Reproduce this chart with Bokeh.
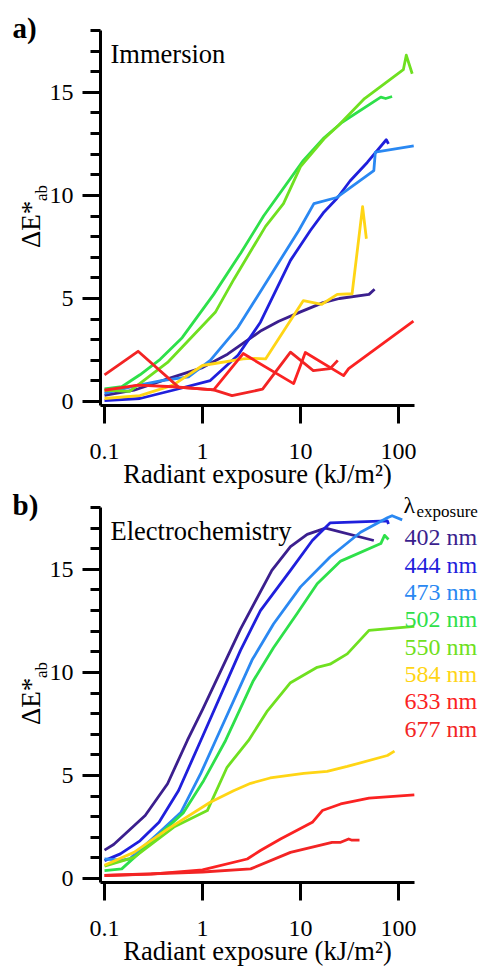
import math
from bokeh.plotting import figure
from bokeh.models import FixedTicker, CustomJSTickFormatter, Label
from bokeh.layouts import column
from bokeh.embed import file_html
from bokeh.resources import INLINE

# ---------------- data ----------------
wavelengths = ["402 nm", "444 nm", "473 nm", "502 nm", "550 nm", "584 nm", "633 nm", "677 nm"]
colors = ["#3b1f8e", "#1f1fdc", "#2a88f2", "#2ee04a", "#6fe020", "#ffd515", "#fb2222", "#f22424"]

x_ticks = [0.1, 1, 10, 100]
y_ticks = [0, 5, 10, 15]
y_minor_ticks = list(range(0, 19))
x_axis_limits = (0.091, 145.6)
y_axis_limits = (-0.19, 18.0)

# Panel a) Immersion
imm_402_x = [0.1, 0.2, 0.44, 1.0, 1.8, 4.0, 6.0, 10, 17, 25, 50, 57]
imm_402_y = [0.3, 0.55, 1.1, 1.65, 2.3, 3.45, 3.9, 4.35, 4.8, 5.0, 5.2, 5.45]
imm_444_x = [0.1, 0.23, 0.5, 1.2, 2.3, 3.9, 7.9, 12.6, 17.4, 23.5, 32, 48, 75, 79]
imm_444_y = [0.05, 0.15, 0.55, 1.02, 2.25, 3.85, 6.85, 8.3, 9.2, 9.85, 10.7, 11.6, 12.7, 12.5]
imm_473_x = [0.1, 0.2, 0.37, 0.72, 1.2, 2.3, 9.6, 13.7, 23.5, 56, 58, 143]
imm_473_y = [0.4, 0.75, 1.0, 1.2, 2.0, 3.6, 8.3, 9.6, 9.9, 11.2, 12.1, 12.4]
imm_502_x = [0.1, 0.15, 0.23, 0.37, 0.62, 1.3, 2.45, 4.2, 10.7, 17.4, 26.6, 66, 74, 86]
imm_502_y = [0.62, 0.72, 1.3, 2.05, 3.1, 5.2, 7.2, 9.0, 11.7, 12.8, 13.55, 14.77, 14.7, 14.8]
imm_550_x = [0.1, 0.18, 0.44, 1.35, 2.1, 4.4, 6.7, 10, 17.4, 24.5, 45, 112, 120, 138]
imm_550_y = [0.55, 0.5, 1.9, 4.33, 5.95, 8.5, 9.6, 11.4, 12.75, 13.4, 14.7, 16.1, 16.8, 15.9]
imm_584_x = [0.1, 0.23, 0.5, 1.0, 2.6, 3.1, 4.4, 10.7, 16.5, 23.7, 33.6, 43, 47]
imm_584_y = [0.15, 0.29, 0.8, 1.75, 2.07, 2.1, 2.07, 4.9, 4.72, 5.2, 5.23, 9.45, 7.9]
imm_633_x = [0.1, 0.22, 0.5, 1.3, 2.6, 8.5, 11.2, 27.5, 31, 142]
imm_633_y = [0.55, 0.8, 0.72, 0.57, 2.33, 0.87, 2.38, 1.26, 1.6, 3.9]
imm_677_x = [0.1, 0.22, 0.57, 1.3, 2.0, 4.1, 7.9, 13.5, 20, 24]
imm_677_y = [1.3, 2.44, 0.7, 0.57, 0.29, 0.6, 2.4, 1.5, 1.6, 2.0]

# Panel b) Electrochemistry
ec_402_x = [0.1, 0.124, 0.26, 0.44, 0.7, 1.0, 2.44, 5.1, 7.9, 11.7, 18, 56]
ec_402_y = [1.38, 1.65, 3.06, 4.6, 6.7, 8.2, 12.1, 14.95, 16.1, 16.7, 17.0, 16.4]
ec_444_x = [0.1, 0.145, 0.23, 0.36, 0.57, 0.96, 2.44, 3.9, 7.9, 13.2, 20, 77, 79]
ec_444_y = [0.87, 1.2, 1.83, 2.73, 4.27, 6.7, 11.07, 13.0, 14.95, 16.4, 17.25, 17.35, 17.2]
ec_473_x = [0.1, 0.15, 0.18, 0.35, 0.6, 0.96, 1.36, 3.2, 5.3, 10, 20, 41, 77, 86, 109]
ec_473_y = [0.95, 0.9, 0.95, 2.17, 3.2, 5.1, 6.7, 10.6, 12.35, 14.15, 15.6, 16.8, 17.5, 17.6, 17.4]
ec_502_x = [0.1, 0.15, 0.37, 0.64, 1.03, 1.72, 3.3, 5.3, 9.2, 14.8, 25.7, 66, 72, 79]
ec_502_y = [0.39, 0.47, 2.17, 3.2, 4.76, 6.7, 9.6, 11.2, 12.85, 14.3, 15.4, 16.25, 16.65, 16.45]
ec_550_x = [0.1, 0.2, 0.51, 1.12, 1.78, 2.95, 4.6, 7.9, 14.8, 20, 30, 50, 145]
ec_550_y = [0.6, 1.03, 2.5, 3.3, 5.4, 6.7, 8.14, 9.5, 10.25, 10.4, 10.9, 12.04, 12.23]
ec_584_x = [0.1, 0.2, 0.44, 1.2, 2.1, 3.1, 4.9, 10.8, 18.7, 30, 77, 91]
ec_584_y = [0.65, 1.27, 2.4, 3.7, 4.27, 4.62, 4.88, 5.1, 5.2, 5.44, 5.97, 6.18]
ec_633_x = [0.1, 0.3, 1.0, 2.86, 3.9, 6.25, 13.2, 16.7, 25.7, 50, 145]
ec_633_y = [0.15, 0.22, 0.42, 0.95, 1.36, 1.92, 2.73, 3.3, 3.62, 3.9, 4.06]
ec_677_x = [0.1, 1.0, 3.1, 7.9, 21, 25.7, 31, 33, 40]
ec_677_y = [0.15, 0.32, 0.47, 1.27, 1.76, 1.76, 1.92, 1.87, 1.87]

imm_series = [(imm_402_x, imm_402_y), (imm_444_x, imm_444_y), (imm_473_x, imm_473_y),
              (imm_502_x, imm_502_y), (imm_550_x, imm_550_y), (imm_584_x, imm_584_y),
              (imm_633_x, imm_633_y), (imm_677_x, imm_677_y)]
ec_series = [(ec_402_x, ec_402_y), (ec_444_x, ec_444_y), (ec_473_x, ec_473_y),
             (ec_502_x, ec_502_y), (ec_550_x, ec_550_y), (ec_584_x, ec_584_y),
             (ec_633_x, ec_633_y), (ec_677_x, ec_677_y)]

SERIF = "Liberation Serif"
W = 479
AX_LEFT, AX_RIGHT = 100, 414   # pixel span of the x axis line
MID = 0.3375                   # baseline -> box middle, in em


def make_panel(H, ax_top, ax_bottom, series, letter, title, legend):
    # frame covers the whole canvas; axes drawn at fixed locations with bounds
    lx0, lx1 = math.log10(x_axis_limits[0]), math.log10(x_axis_limits[1])
    kx = (lx1 - lx0) / (AX_RIGHT - AX_LEFT)
    xr = (10 ** (lx0 - AX_LEFT * kx), 10 ** (lx1 + (W - AX_RIGHT) * kx))
    y0, y1 = y_axis_limits
    ky = (y1 - y0) / (ax_bottom - ax_top)
    yr = (y0 - (H - ax_bottom) * ky, y1 + ax_top * ky)

    p = figure(width=W, height=H, x_axis_type="log", x_range=xr, y_range=yr,
               output_backend="svg", toolbar_location=None, min_border=0)
    p.outline_line_color = None
    p.xgrid.visible = False
    p.ygrid.visible = False
    p.background_fill_color = "white"
    p.border_fill_color = "white"

    for (xs, ys), c in zip(series, colors):
        p.line(xs, ys, line_color=c, line_width=2.8, line_join="round")

    for ax in (p.xaxis[0], p.yaxis[0]):
        ax.axis_line_width = 3
        ax.axis_line_color = "black"
        ax.major_tick_line_width = 3
        ax.minor_tick_line_width = 3
        ax.major_tick_in = 0
        ax.major_tick_out = 18
        ax.minor_tick_in = 0
        ax.major_label_text_font = SERIF
        ax.major_label_text_font_size = "24px"
        ax.major_label_text_color = "black"

    xa = p.xaxis[0]
    xa.fixed_location = y0
    xa.bounds = x_axis_limits
    xa.ticker = FixedTicker(ticks=x_ticks, minor_ticks=[])
    xa.formatter = CustomJSTickFormatter(code="return tick.toString();")
    xa.minor_tick_out = 0
    xa.major_label_standoff = 20
    xa.axis_label = "Radiant exposure (kJ/m²)"
    xa.axis_label_text_font = SERIF
    xa.axis_label_text_font_size = "26.5px"
    xa.axis_label_text_font_style = "normal"
    xa.axis_label_text_color = "black"
    xa.axis_label_standoff = -3

    ya = p.yaxis[0]
    ya.fixed_location = x_axis_limits[0]
    ya.bounds = y_axis_limits
    ya.ticker = FixedTicker(ticks=y_ticks, minor_ticks=y_minor_ticks)
    ya.minor_tick_out = 10
    ya.major_label_standoff = 9

    def lab(x, py_base, text, fs, color="black", **kw):
        p.add_layout(Label(x=x, y=H - (py_base - MID * fs), x_units="screen", y_units="screen",
                           text=text, text_font=SERIF, text_font_size=f"{fs}px",
                           text_color=color, text_align="left", text_baseline="middle", **kw))

    def lab_rot(x_base, py_start, text, fs):
        p.add_layout(Label(x=x_base - MID * fs, y=H - py_start, x_units="screen", y_units="screen",
                           text=text, text_font=SERIF, text_font_size=f"{fs}px",
                           text_color="black", text_align="left", text_baseline="middle",
                           angle=math.pi / 2))

    ax_mid = (ax_top + ax_bottom) / 2.0
    lab(12, ax_top + 7, letter, 29, text_font_style="bold")
    lab(110, ax_top + 32, title, 26.5)
    # y axis title  ΔE*_ab (rotated)
    lab_rot(40, ax_mid + 30, "ΔE*", 27)
    lab_rot(47, ax_mid - 17, "ab", 17)

    if legend:
        lab(403, ax_top + 6, "λ", 24)
        lab(416, ax_top + 10, "exposure", 17)
        for i, (w, c) in enumerate(zip(wavelengths, colors)):
            lab(404, ax_top + 38 + 27.3 * i, w, 24, color=c)
    return p


pa = make_panel(490, 30, 405, imm_series, "a)", "Immersion", False)
pb = make_panel(477, 17, 392, ec_series, "b)", "Electrochemistry", True)

layout = column(pa, pb, spacing=0)
open("out.html", "w").write(file_html(layout, INLINE))
